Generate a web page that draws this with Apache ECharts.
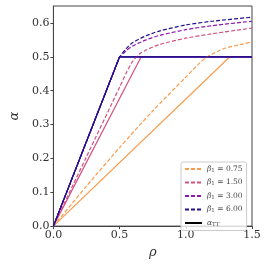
<!DOCTYPE html>
<html>
<head>
<meta charset="utf-8">
<script src="https://cdn.jsdelivr.net/npm/echarts@6/dist/echarts.min.js"></script>
<style>
html,body{margin:0;padding:0;background:#fff;}
#c{width:265px;height:264px;}
</style>
</head>
<body>
<div id="c"></div>
<script>
// ---- data ----
const betaLabels = ['0.75', '1.50', '3.00', '6.00'];
const colors = ['#f99b4a', '#d2527f', '#9016b0', '#24118f'];

// dashed curves alpha(rho)
const rhoD075 = [0, 0.25, 0.5, 0.75, 1.0, 1.1, 1.16, 1.2, 1.25, 1.3, 1.4, 1.5];
const alphaD075 = [0, 0.118, 0.232, 0.34, 0.44, 0.48, 0.5, 0.508, 0.518, 0.526, 0.535, 0.544];

const rhoD150 = [0, 0.25, 0.5, 0.55, 0.6, 0.65, 0.7, 0.8, 1.0, 1.2, 1.5];
const alphaD150 = [0, 0.205, 0.41, 0.452, 0.487, 0.508, 0.52, 0.536, 0.555, 0.568, 0.585];

const rhoD300 = [0, 0.25, 0.45, 0.5, 0.55, 0.6, 0.7, 0.8, 1.0, 1.2, 1.5];
const alphaD300 = [0, 0.25, 0.45, 0.497, 0.518, 0.532, 0.55, 0.563, 0.58, 0.592, 0.605];

const rhoD600 = [0, 0.25, 0.45, 0.5, 0.55, 0.6, 0.7, 0.8, 1.0, 1.2, 1.5];
const alphaD600 = [0, 0.25, 0.45, 0.499, 0.524, 0.542, 0.562, 0.576, 0.594, 0.605, 0.617];

// solid curves alpha_TT(rho)
const rhoS075 = [0, 1.333, 1.5];
const alphaS075 = [0, 0.5, 0.5];
const rhoS150 = [0, 0.663, 1.5];
const alphaS150 = [0, 0.5, 0.5];
const rhoS300 = [0, 0.5, 1.5];
const alphaS300 = [0, 0.5, 0.5];
const rhoS600 = [0, 0.5, 1.5];
const alphaS600 = [0, 0.5, 0.5];

const xTicks = [0, 0.5, 1.0, 1.5];
const yTicks = [0, 0.1, 0.2, 0.3, 0.4, 0.5, 0.6];

// ---- build chart ----
const zip = (xs, ys) => xs.map((x, i) => [x, ys[i]]);
const dashed = [zip(rhoD075, alphaD075), zip(rhoD150, alphaD150), zip(rhoD300, alphaD300), zip(rhoD600, alphaD600)];
const solid = [zip(rhoS075, alphaS075), zip(rhoS150, alphaS150), zip(rhoS300, alphaS300), zip(rhoS600, alphaS600)];

const serif = 'DejaVu Serif';
const series = [];
for (let i = 0; i < 4; i++) {
  series.push({
    name: 'solid' + i, type: 'line', data: solid[i], symbol: 'none', silent: true,
    lineStyle: { color: colors[i], width: 1.2, type: 'solid' }, itemStyle: { color: colors[i] }
  });
}
for (let i = 0; i < 4; i++) {
  series.push({
    name: 'b' + i, type: 'line', data: dashed[i], symbol: 'none', smooth: 0.25,
    lineStyle: { color: colors[i], width: 1.2, type: [4, 2] }, itemStyle: { color: colors[i] }
  });
}
series.push({
  name: 'tt', type: 'line', data: [], symbol: 'none',
  lineStyle: { color: '#000', width: 1.2, type: 'solid' }, itemStyle: { color: '#000' }
});
// redraw the final horizontal segment on top
series.push({
  name: 'top', type: 'line', data: solid[3], symbol: 'none', silent: true, z: 5,
  lineStyle: { color: colors[3], width: 1.2 }, itemStyle: { color: colors[3] }
});

const chart = echarts.init(document.getElementById('c'), null, { renderer: 'canvas' });
chart.setOption({
  animation: false,
  backgroundColor: '#fff',
  grid: { left: 37, right: 13, top: 6, bottom: 34, show: true, borderColor: '#444', borderWidth: 1 },
  xAxis: {
    type: 'value', min: 0, max: 1.5, interval: 0.5,
    name: 'ρ', nameLocation: 'middle', nameGap: 15,
    nameTextStyle: { fontFamily: serif, fontStyle: 'italic', fontSize: 13, color: '#333' },
    axisLine: { show: true, lineStyle: { color: '#444', width: 1 } },
    axisTick: { show: true, inside: false, length: 3, lineStyle: { color: '#444' } },
    axisLabel: { margin: 4, fontFamily: serif, fontSize: 11, color: '#333',
      formatter: v => v.toFixed(1) },
    splitLine: { show: false }
  },
  yAxis: {
    type: 'value', min: 0, max: 0.65,
    name: 'α', nameLocation: 'middle', nameGap: 26,
    nameTextStyle: { fontFamily: serif, fontStyle: 'italic', fontSize: 13, color: '#333' },
    axisLine: { show: true, lineStyle: { color: '#444', width: 1 } },
    axisTick: { show: true, inside: false, length: 3, lineStyle: { color: '#444' }, customValues: yTicks },
    axisLabel: { margin: 4, fontFamily: serif, fontSize: 11, color: '#333', customValues: yTicks,
      formatter: v => v.toFixed(1) },
    splitLine: { show: false }
  },
  legend: {
    orient: 'vertical', left: 181, top: 162,
    data: ['b0', 'b1', 'b2', 'b3', 'tt'],
    itemWidth: 17, itemHeight: 8, itemGap: 5,
    padding: [3, 4, 3, 3],
    itemStyle: { opacity: 0 },
    borderColor: '#ccc', borderWidth: 1, borderRadius: 2,
    backgroundColor: 'rgba(255,255,255,0.8)',
    textStyle: {
      fontFamily: serif, fontSize: 7.5, color: '#444',
      rich: {
        a: { fontFamily: serif, fontSize: 7.5, color: '#444' },
        i: { fontFamily: serif, fontSize: 7.5, fontStyle: 'italic', color: '#444' },
        s: { fontFamily: serif, fontSize: 5.5, color: '#444', padding: [3, 0, 0, 0] }
      }
    },
    formatter: function (name) {
      if (name === 'tt') return '{i|α}{s|TT}';
      const k = +name.slice(1);
      return '{i|β}{s|1}{a| = ' + betaLabels[k] + '}';
    }
  },
  series: series
});
</script>
</body>
</html>
